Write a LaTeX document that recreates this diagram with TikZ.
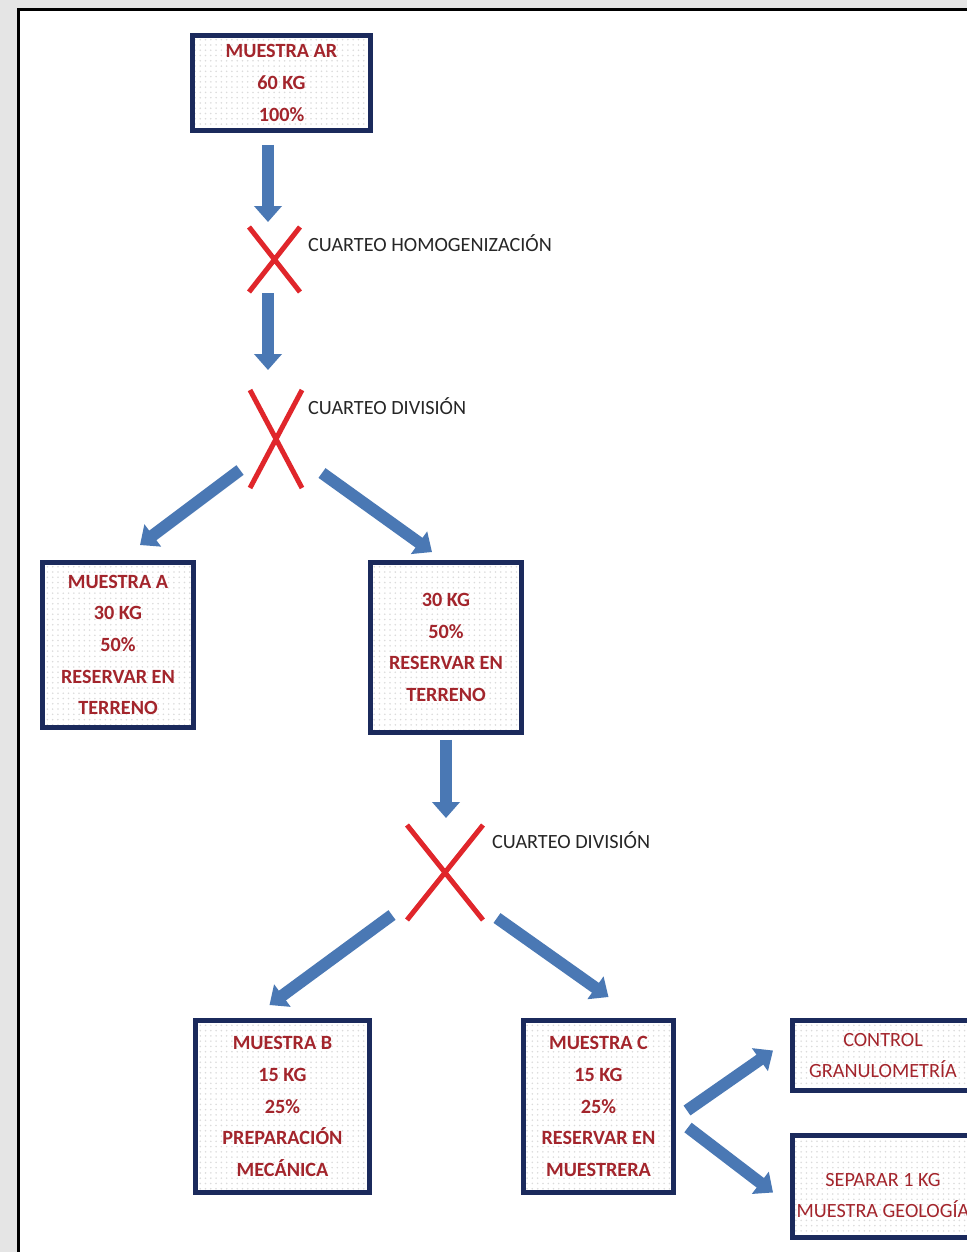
\documentclass[tikz,border=0pt]{standalone}
\usepackage{fontspec}
\setmainfont{Carlito}
\usepackage{tikz}
\usetikzlibrary{positioning, arrows.meta, calc, patterns}
\definecolor{boxnavy}{HTML}{1B2A5C}
\definecolor{samplered}{HTML}{A3252C}
\definecolor{flowblue}{HTML}{4A78B4}
\definecolor{crossred}{HTML}{E0262B}

\begin{document}
\begin{tikzpicture}[
  x=0.02cm, y=-0.02cm,
  flow/.style={-{Triangle[length=0.32cm, width=0.54cm]}, line width=0.24cm, flowblue},
  sample/.style={draw=boxnavy, line width=0.1cm, pattern=dots, pattern color=black!14,
    align=center, inner sep=2pt, text=samplered, font=\fontsize{11.5}{18}\selectfont\bfseries},
  note/.style={sample, font=\fontsize{11.5}{17.5}\selectfont},
  quarter/.style={inner sep=0pt, outer sep=0pt},
  cross/.style={crossred, line width=0.1cm},
  steplabel/.style={anchor=west, text=black!85, font=\fontsize{11.5}{14}\selectfont}
]
% Page and frame
\useasboundingbox (0,0) rectangle (967,1252);
\clip (0,0) rectangle (967,1252);
\fill[black!10] (0,0) rectangle (967,1252);
\draw[line width=0.06cm, fill=white] (18.5,9.5) rectangle (1000,1300);

% Starting sample
\node[sample, minimum width=3.56cm, minimum height=1.9cm] (ar) at (281.5,83)
  {MUESTRA AR\\60 KG\\100\%};

% First quartering
\node[quarter, minimum width=1.02cm, minimum height=1.3cm] (x1) at (274.5,259.5) {};
\draw[cross] (x1.north west) -- (x1.south east) (x1.north east) -- (x1.south west);
\node[steplabel] (l1) at (302,243) {CUARTEO HOMOGENIZACIÓN};

% Second quartering
\node[quarter, minimum width=1.04cm, minimum height=1.96cm] (x2) at (276,439) {};
\draw[cross] (x2.north west) -- (x2.south east) (x2.north east) -- (x2.south west);
\node[steplabel] (l2) at (302,406) {CUARTEO DIVISIÓN};

% Halves
\node[sample, minimum width=3.02cm, minimum height=3.3cm] (a) at (118,645)
  {MUESTRA A\\30 KG\\50\%\\RESERVAR EN\\TERRENO};
\node[sample, minimum width=3.02cm, minimum height=3.4cm] (half) at (446,647.5)
  {30 KG\\50\%\\RESERVAR EN\\TERRENO};

% Third quartering
\node[quarter, minimum width=1.52cm, minimum height=1.9cm] (x3) at (445,872.5) {};
\draw[cross] (x3.north west) -- (x3.south east) (x3.north east) -- (x3.south west);
\node[steplabel] (l3) at (486,840) {CUARTEO DIVISIÓN};

% Quarters
\node[sample, minimum width=3.48cm, minimum height=3.44cm] (b) at (282.5,1106.5)
  {MUESTRA B\\15 KG\\25\%\\PREPARACIÓN\\MECÁNICA};
\node[sample, minimum width=3.0cm, minimum height=3.44cm] (c) at (598.5,1106.5)
  {MUESTRA C\\15 KG\\25\%\\RESERVAR EN\\MUESTRERA};

% Uses of sample C
\node[note, minimum width=3.62cm, minimum height=1.4cm] (gran) at (883,1055.5)
  {CONTROL\\GRANULOMETRÍA};
\node[note, minimum width=3.62cm, minimum height=2.04cm] (geo) at (883,1186.5)
  {\\SEPARAR 1 KG\\MUESTRA GEOLOGÍA};

% Flow arrows
\draw[flow] ($(ar.south)+(-13.5,12)$) -- ($(x1.north)+(-6.5,-5)$);
\draw[flow] ($(x1.south)+(-6.5,1)$) -- ($(x2.north)+(-8,-20)$);
\draw[flow] ($(x2.south west)+(-10,-18)$) -- ($(a.north)+(22,-15)$);
\draw[flow] ($(x2.south east)+(20,-15)$) -- ($(half.north)+(-14,-8)$);
\draw[flow] ($(half.south)+(0,5)$) -- ($(x3.north)+(1,-7)$);
\draw[flow] ($(x3.south west)+(-15,-5)$) -- ($(b.north)+(-13,-13)$);
\draw[flow] ($(x3.south east)+(14,-2)$) -- ($(c.north)+(10,-21)$);
\draw[flow] ($(c.east)+(11,4)$) -- ($(gran.west)+(-17,-5)$);
\draw[flow] ($(c.east)+(12,21)$) -- ($(geo.west)+(-17,6)$);
\end{tikzpicture}
\end{document}
